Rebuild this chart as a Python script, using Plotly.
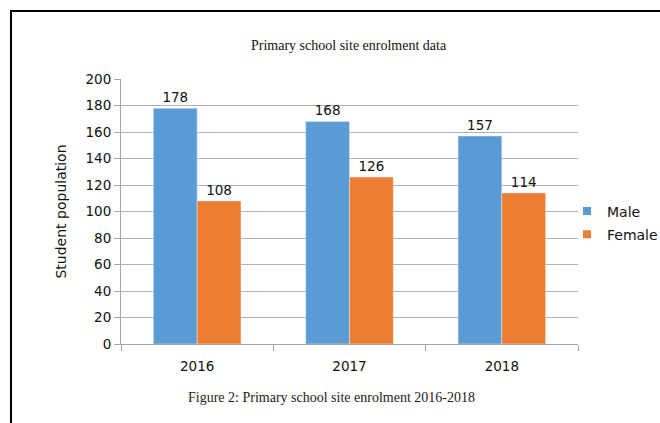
import plotly.graph_objects as go

years = ["2016", "2017", "2018"]
male = [178, 168, 157]
female = [108, 126, 114]
y_ticks = [0, 20, 40, 60, 80, 100, 120, 140, 160, 180, 200]

W, H = 660, 423
L, R, T, B = 121, 82, 79, 79
pw, ph = W - L - R, H - T - B

def px_x(x):
    return (x - L) / pw

def px_y(y):
    return (H - B - y) / ph

sans = "DejaVu Sans"
serif = "Liberation Serif"
BLUE, ORANGE = "#5B9BD5", "#ED7D31"

fig = go.Figure()
fig.add_trace(go.Bar(name="Male", x=years, y=male, marker_color=BLUE, showlegend=False,
                     text=[str(v) for v in male], textposition="outside",
                     textfont=dict(family=sans, size=13.5, color="#111"), cliponaxis=False))
fig.add_trace(go.Bar(name="Female", x=years, y=female, marker_color=ORANGE, showlegend=False,
                     text=[str(v) for v in female], textposition="outside",
                     textfont=dict(family=sans, size=13.5, color="#111"), cliponaxis=False))
# legend entries with small square symbols
fig.add_trace(go.Scatter(name="Male", x=[None], y=[None], mode="markers", legendgroup="m",
                         marker=dict(symbol="square", size=8, color=BLUE)))
fig.add_trace(go.Scatter(name="Female", x=[None], y=[None], mode="markers", legendgroup="f",
                         marker=dict(symbol="square", size=8, color=ORANGE)))

fig.update_layout(
    width=W, height=H,
    margin=dict(l=L, r=R, t=T, b=B, pad=0, autoexpand=False),
    paper_bgcolor="white", plot_bgcolor="white",
    barmode="group", bargap=0.425, bargroupgap=0,
    showlegend=True,
    legend=dict(x=px_x(567), y=px_y(223), xanchor="left", yanchor="middle",
                font=dict(family=sans, size=14, color="#111"),
                itemwidth=30, tracegroupgap=2, bgcolor="rgba(0,0,0,0)"),
    xaxis=dict(type="category", showgrid=False, showline=True, linecolor="#a6a6a6",
               linewidth=1, ticks="outside", tickson="boundaries", ticklen=6,
               ticklabelstandoff=10,
               tickcolor="#a6a6a6", tickfont=dict(family=sans, size=13.5, color="#111")),
    yaxis=dict(range=[0, 200], tickvals=y_ticks, showgrid=True, gridcolor="#b0b0b0",
               gridwidth=1, showline=True, linecolor="#a6a6a6", linewidth=1,
               ticks="outside", ticklen=6, tickcolor="#a6a6a6", zeroline=False,
               tickfont=dict(family=sans, size=13.5, color="#111"),
               title=dict(text="Student population", font=dict(family=sans, size=14, color="#111"),
                          standoff=15)),
    annotations=[
        dict(text="Primary school site enrolment data", xref="paper", yref="paper",
             x=px_x(349), y=px_y(45), showarrow=False, xanchor="center", yanchor="middle",
             font=dict(family=serif, size=14, color="#111")),
        dict(text="Figure 2: Primary school site enrolment 2016-2018", xref="paper", yref="paper",
             x=px_x(331), y=px_y(397), showarrow=False, xanchor="center", yanchor="middle",
             font=dict(family=serif, size=14, color="#222")),
    ],
    shapes=[
        dict(type="line", xref="paper", yref="paper", x0=px_x(10), x1=px_x(662),
             y0=px_y(11), y1=px_y(11), line=dict(color="#000", width=2)),
        dict(type="line", xref="paper", yref="paper", x0=px_x(11), x1=px_x(11),
             y0=px_y(10), y1=px_y(425), line=dict(color="#000", width=2)),
    ],
)

fig.write_html("out.html")
